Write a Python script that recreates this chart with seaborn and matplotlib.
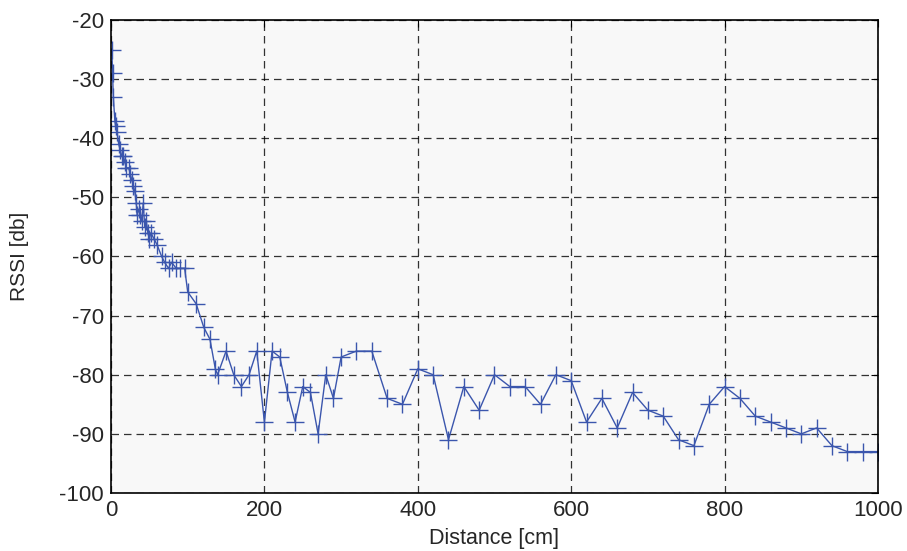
import matplotlib
matplotlib.use("Agg")
import matplotlib.pyplot as plt
import seaborn as sns
import pandas as pd

# measured RSSI against distance
distance_cm = [1, 2, 3, 5, 6, 8, 10, 12, 14, 16, 18, 20, 23, 25, 27, 29, 31, 33, 34, 36,
               38, 40, 42, 44, 46, 48, 50, 52, 56, 60, 66, 70, 75, 79, 85, 90, 96, 100,
               111, 121, 129, 136, 139, 150, 160, 170, 180, 190, 200, 210, 220, 230, 240,
               250, 260, 270, 280, 290, 300, 320, 340, 360, 380, 400, 420, 440, 460, 480,
               500, 520, 540, 560, 580, 600, 620, 640, 660, 680, 700, 720, 740, 760, 780,
               800, 820, 840, 860, 880, 900, 920, 940, 960, 980, 1000]
rssi_db = [-25, -29, -33, -37, -38, -39, -41, -42, -43, -43, -44, -45, -45, -46, -47, -48,
           -49, -51, -53, -52, -53, -54, -51, -55, -54, -56, -57, -56, -57, -58, -60, -61,
           -62, -61, -62, -62, -62, -66, -68, -72, -74, -79, -80, -76, -80, -82, -80, -76,
           -88, -76, -77, -83, -88, -82, -83, -90, -80, -84, -77, -76, -76, -84, -85, -79,
           -80, -91, -82, -86, -80, -82, -82, -85, -80, -81, -88, -84, -89, -83, -86, -87,
           -91, -92, -85, -82, -84, -87, -88, -89, -90, -89, -92, -93, -93, -93]

x_ticks = [0, 200, 400, 600, 800, 1000]
y_ticks = [-100, -90, -80, -70, -60, -50, -40, -30, -20]

df = pd.DataFrame({"distance": distance_cm, "rssi": rssi_db})

sns.set_style("white")
plt.rcParams["font.family"] = ["Liberation Sans", "DejaVu Sans"]
plt.rcParams["axes.unicode_minus"] = False

fig = plt.figure(figsize=(9.07, 5.51), dpi=100)
ax = fig.add_axes([0.1224, 0.1053, 0.968 - 0.1224, 0.9637 - 0.1053])
ax.set_facecolor("#f8f8f8")

sns.lineplot(data=df, x="distance", y="rssi", ax=ax, estimator=None, sort=False,
             color="#3b56ad", linewidth=1.0, marker="+", markersize=13,
             markeredgewidth=1.0, markeredgecolor="#3b56ad")

ax.set_xlim(0, 1000)
ax.set_ylim(-100, -20)
ax.set_xticks(x_ticks)
ax.set_yticks(y_ticks)
ax.grid(True, color="black", linestyle=(0, (6, 4)), linewidth=0.9, alpha=0.8)
ax.tick_params(direction="in", top=True, right=True, length=5, labelsize=16,
               color="black", width=0.8)
ax.tick_params(axis="x", pad=5)
ax.tick_params(axis="y", pad=5)
for s in ax.spines.values():
    s.set_color("black")
    s.set_linewidth(1.2)

ax.set_xlabel("Distance [cm]", fontsize=15.5, labelpad=5)
ax.set_ylabel("RSSI [db]", fontsize=15, labelpad=22)

fig.savefig("out.png", dpi=100)
